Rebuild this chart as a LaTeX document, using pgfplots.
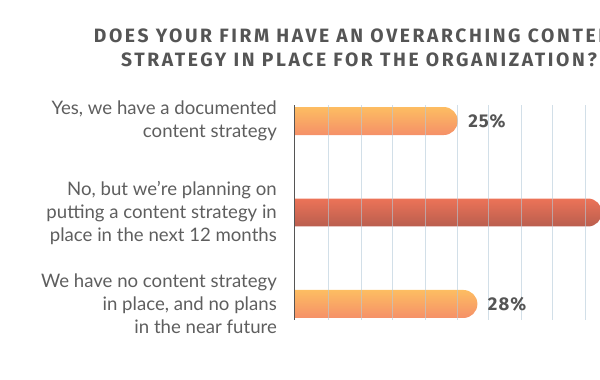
\documentclass[border=0pt]{standalone}
\usepackage{pgfplots}
\pgfplotsset{compat=1.18}
\usepackage{fontspec}
\setmainfont{Lato}
\newfontfamily\titlefont[LetterSpace=13.5]{Fira Sans}
\newfontfamily\numfont[LetterSpace=6]{Fira Sans}
\definecolor{txt}{HTML}{555555}
\definecolor{lbl}{HTML}{5E5E5E}
\definecolor{gridc}{HTML}{B4CAD8}
\definecolor{ltop}{HTML}{FDBD62}
\definecolor{lbot}{HTML}{F59068}
\definecolor{dtop}{HTML}{EC7358}
\definecolor{dbot}{HTML}{B95E4E}
\begin{document}
\begin{tikzpicture}[x=1pt,y=1pt]
\begin{axis}[
  at={(294pt,60pt)}, anchor=south west,
  scale only axis, width=327.5pt, height=215pt,
  xmin=0, xmax=50, ymin=0.825, ymax=3.175,
  axis line style={draw=none},
  /pgf/number format/assume math mode=true,
  xtick={5.34,10.23,15.11,20.0,24.89,29.77,34.66,39.54,44.43,49.31},
  xticklabels={}, major tick length=0pt,
  xmajorgrids, major grid style={gridc, line width=1pt, opacity=0.6},
  axis on top,
  ytick={1,2,3},
  yticklabels={{We have no content strategy\\in place, and no plans\\in the near future},
               {No, but we're planning on\\putting a content strategy in\\place in the next 12 months},
               {Yes, we have a documented\\content strategy}},
  yticklabel style={align=right, inner sep=0pt, xshift=-17pt, text=lbl,
     font=\fontsize{18.6}{23}\selectfont},
]
\addplot[draw=none, shade, top color=ltop, bottom color=lbot, rounded corners=14pt, mark=none]
  coordinates {(-5,2.847) (25,2.847) (25,3.153) (-5,3.153)} -- cycle;
\addplot[draw=none, shade, top color=dtop, bottom color=dbot, rounded corners=14pt, mark=none]
  coordinates {(-5,1.847) (47,1.847) (47,2.153) (-5,2.153)} -- cycle;
\addplot[draw=none, shade, top color=ltop, bottom color=lbot, rounded corners=14pt, mark=none]
  coordinates {(-5,0.847) (28,0.847) (28,1.153) (-5,1.153)} -- cycle;
\addplot[draw=none, mark=none, point meta=explicit symbolic,
  nodes near coords,
  every node near coord/.append style={anchor=west, xshift=7pt, text=txt,
     font=\numfont\bfseries\fontsize{18.5}{20}\selectfont}]
  coordinates {(25,3) [25\%] (28,1) [28\%]};
\draw[txt, line width=2.5pt] (axis cs:0,0.825) -- (axis cs:0,3.175);
\end{axis}
\node[text=txt, align=center, font=\titlefont\bfseries\fontsize{19.3}{24.5}\selectfont]
  at (359pt,332pt) {DOES YOUR FIRM HAVE AN OVERARCHING CONTENT\\STRATEGY IN PLACE FOR THE ORGANIZATION?};
\pgfresetboundingbox
\path (0,0) rectangle (600pt,380pt);
\end{tikzpicture}
\end{document}
